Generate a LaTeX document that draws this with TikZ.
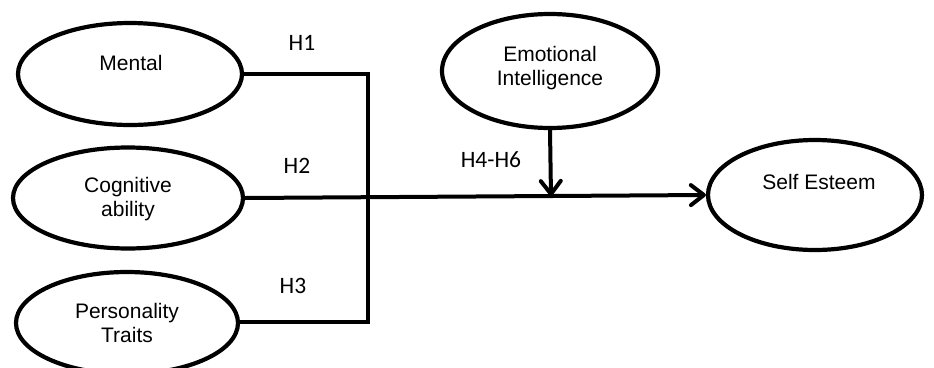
\documentclass[tikz,border=0pt]{standalone}
\usepackage{fontspec}
\setmainfont{Liberation Sans}
\newfontfamily\calib{Carlito}
\usetikzlibrary{shapes.geometric,arrows.meta}
\tikzset{
  ell/.style={draw, ellipse, line width=4.2pt, inner sep=0pt},
  txt/.style={font=\fontsize{21}{24}\selectfont, align=center, inner sep=0pt},
  hyp/.style={font=\calib\fontsize{23.5}{26}\selectfont, inner sep=0pt},
  conn/.style={line width=4pt},
  arr/.style={conn, -{Straight Barb[length=13pt, width=20pt, line cap=round, line join=round]}}
}
\begin{document}
\begin{tikzpicture}[x=1pt, y=-1pt]
\useasboundingbox (0,0) rectangle (934,367);
\clip (0,0) rectangle (934,367);
% ellipses
\node[ell, minimum width=224pt, minimum height=102pt] (mental) at (130,74) {};
\node[ell, minimum width=230pt, minimum height=101pt] (cog) at (128,198) {};
\node[ell, minimum width=222pt, minimum height=102pt] (pers) at (127,323) {};
\node[ell, minimum width=216pt, minimum height=114pt] (emo) at (550,71) {};
\node[ell, minimum width=214pt, minimum height=110pt] (self) at (815,195) {};
% texts
\node[txt] (tmental) at (131,63) {Mental};
\node[txt] (tcog) at (128,199) {Cognitive\\ability};
\node[txt] (tpers) at (127,323) {Personality\\Traits};
\node[txt] (temo) at (550,68) {Emotional\\Intelligence};
\node[txt] (tself) at (819,182) {Self Esteem};
% hypothesis labels
\node[hyp] (h1) at (302,43) {H1};
\node[hyp] (h2) at (297,166) {H2};
\node[hyp] (h3) at (293,286) {H3};
\node[hyp] (h46) at (491,160) {H4-H6};
% connectors
\coordinate (jt) at (368,74);
\coordinate (jb) at (368,322);
\coordinate (mod) at (551,196);
\draw[conn, line join=miter] (mental.east) -- (jt) -- (jb) -- (pers.east |- jb);
\draw[arr] (cog.east) -- (self.west);
\draw[arr] (emo.south) -- (mod);
\end{tikzpicture}
\end{document}
